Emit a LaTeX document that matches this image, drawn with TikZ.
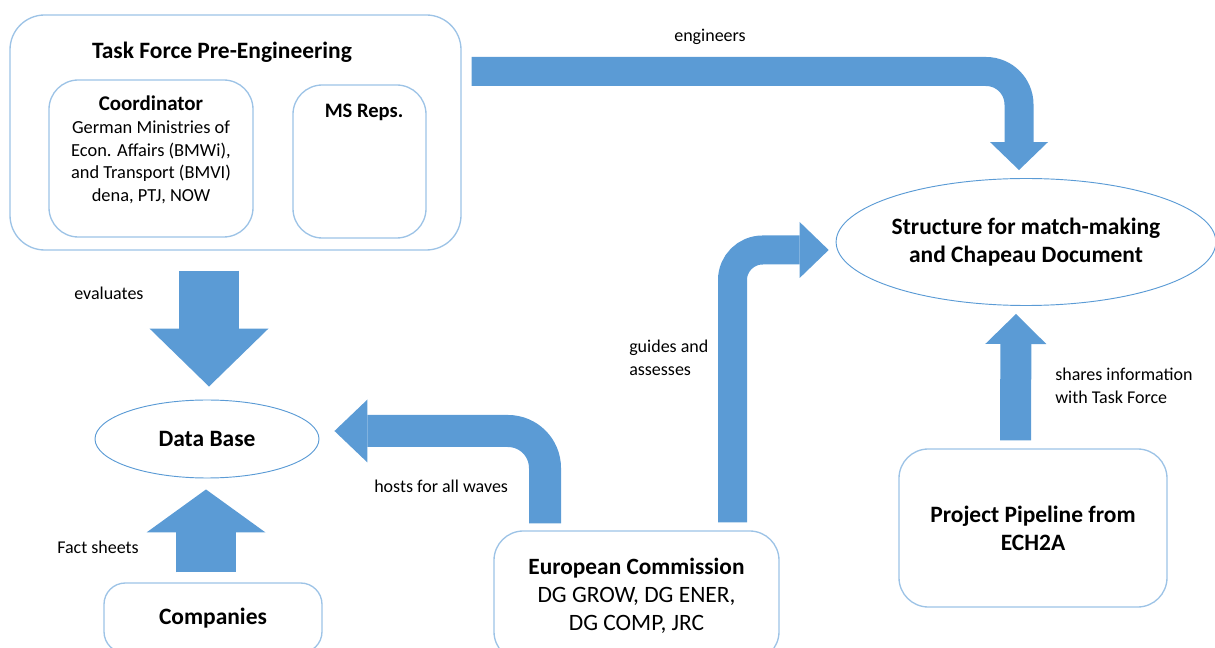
\documentclass[tikz,border=0pt]{standalone}
\usepackage{fontspec}
\setmainfont{Carlito}
\usetikzlibrary{arrows.meta,shapes.geometric,positioning,calc}
\definecolor{arrowblue}{HTML}{5B9BD5}
\definecolor{boxblue}{HTML}{9DC3E6}
\definecolor{ovalblue}{HTML}{5B9BD5}
\begin{document}
\begin{tikzpicture}[x=0.75pt, y=-0.75pt,
        box/.style={draw=boxblue, line width=1pt, rounded corners=22pt, inner sep=0pt, align=center},
        oval/.style={ellipse, draw=ovalblue, line width=0.7pt, inner sep=0pt, align=center},
        lbl/.style={font=\fontsize{13.5}{17}\selectfont, align=left, anchor=west, inner sep=0pt},
        head/.style={font=\fontsize{17.6}{21}\selectfont\bfseries},
        flow/.style={draw=arrowblue, line width=#1}]
        \useasboundingbox (0,0) rectangle (1215,648);
        \clip (0,0) rectangle (1215,648);

        \node (tf) [box, rounded corners=26pt, minimum width=338.25pt, minimum height=176.25pt] at (235.5,132.5) {};
        \node (tftitle) [head] at (222,52) {Task Force Pre-Engineering};
        \node (coord) [box, minimum width=153pt, minimum height=117.75pt] at (151,158.5) {};
        \node (coordtext) [align=center, inner sep=0pt, font=\fontsize{13.8}{17}\selectfont] at (151,150)
            {{\fontsize{15.7}{17}\selectfont\bfseries Coordinator}\\German Ministries of\\Econ. Affairs (BMWi),\\and Transport (BMVI)\\dena, PTJ, NOW};
        \node (ms) [box, minimum width=99.75pt, minimum height=114.75pt] at (359.5,161.5) {};
        \node (mstext) [head, font=\fontsize{15.4}{19}\selectfont\bfseries] at (364,112) {MS Reps.};

        \node (struct) [oval, head, minimum width=282pt, minimum height=95.25pt] at (1026,242)
            {Structure for match-making\\and Chapeau Document};
        \node (db) [oval, head, minimum width=168pt, minimum height=58.5pt] at (207,439) {Data Base};
        \node (comp) [box, head, rounded corners=16pt, minimum width=163.5pt, minimum height=52.5pt] at (213,618) {Companies};
        \node (ec) [box, minimum width=213.75pt, minimum height=97.5pt, font=\fontsize{17.6}{21}\selectfont] at (636.5,596)
            {{\fontsize{17.5}{21}\selectfont\bfseries European Commission}\\DG GROW, DG ENER,\\DG COMP, JRC};
        \node (pp) [box, head, minimum width=201pt, minimum height=118.5pt] at (1033,528)
            {Project Pipeline from\\ECH2A};

        \node (engineers) [lbl, anchor=center] at (710,37) {engineers};
        \node (evaluates) [lbl] at (74,293) {evaluates};
        \node (facts) [lbl] at (57,547) {Fact sheets};
        \node (hosts) [lbl] at (374,486) {hosts for all waves};
        \node (guides) [lbl] at (629,358) {guides and\\assesses};
        \node (shares) [lbl] at (1055,386) {shares information\\with Task Force};

        \coordinate (engstart) at ($(tf.east)+(10,-61)$);
        \draw [flow=21.75pt, rounded corners=24.75pt, -{Triangle[width=43.5pt, length=21pt, line width=0pt]}]
            (engstart) -| ($(struct.north)+(-7,-8)$);
        \draw [flow=21.75pt, rounded corners=22.5pt, -{Triangle[width=42pt, length=21.75pt, line width=0pt]}]
            ($(ec.north)+(96,-8)$) |- ($(struct.west)+(-7,8)$);
        \draw [flow=24pt, rounded corners=27.75pt, -{Triangle[width=47.25pt, length=24.75pt, line width=0pt]}]
            ($(ec.north)+(-91.5,-7)$) |- ($(db.east)+(15,-8)$);
        \draw [flow=45pt, -{Triangle[width=89.25pt, length=43.5pt, line width=0pt]}]
            ($(tf.south)+(-26.5,20)$) -- ($(db.north)+(2,-13)$);
        \draw [flow=45pt, -{Triangle[width=89.25pt, length=32.25pt, line width=0pt]}]
            ($(comp.north)+(-7,-10)$) -- ($(db.south)+(-1,11)$);
        \draw [flow=23.25pt, -{Triangle[width=45.75pt, length=22.5pt, line width=0pt]}]
            ($(pp.north)+(-17.5,-8)$) -- ($(struct.south)+(-10,8)$);
    \end{tikzpicture}
\end{document}
